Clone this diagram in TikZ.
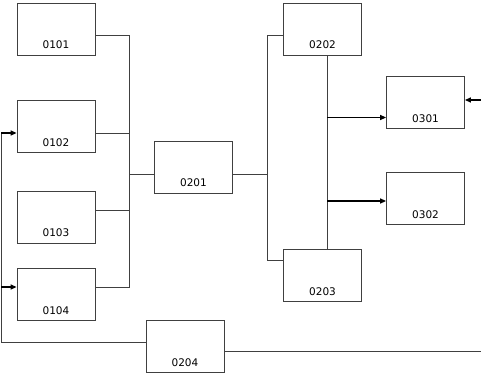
\documentclass[tikz,border=0pt]{standalone}
\usepackage{fontspec}
\setmainfont{DejaVu Sans}
\usetikzlibrary{arrows.meta}
\begin{document}
\begin{tikzpicture}[x=1pt, y=-1pt,
		box/.style={rectangle,draw=black!75,line width=0.8pt,minimum width=78pt,minimum height=52pt,
			text height=39pt,text depth=0pt,inner ysep=6.5pt,font=\fontsize{10.5}{12}\selectfont},
		wire/.style={draw=black!75,line width=0.8pt},
		feed/.style={draw=black,line width=1.3pt,-{Triangle[length=6pt,width=5pt]}}]
	\useasboundingbox (0,0) rectangle (481,377);

	% stage 01
	\node[box] (n0101) at (56,29.5) {0101};
	\node[box] (n0102) at (56,126.5) {0102};
	\node[box] (n0103) at (56,217) {0103};
	\node[box] (n0104) at (56,294.5) {0104};
	% stage 02
	\node[box] (n0201) at (193.5,167) {0201};
	\node[box] (n0202) at (322.5,29.5) {0202};
	\node[box] (n0203) at (322.5,275.5) {0203};
	\node[box] (n0204) at (185,346.5) {0204};
	% stage 03
	\node[box] (n0301) at (425.5,102.5) {0301};
	\node[box] (n0302) at (425.5,198.5) {0302};

	% junctions
	\coordinate (busA) at (129,174);
	\coordinate (busB) at (267,174);
	\coordinate (loopL) at (1,0);
	\coordinate (in0301) at (481,100);
	\coordinate (out0204) at (481,351.5);

	\coordinate (p0101) at ([yshift=-5.5pt]n0101.east);
	\coordinate (p0102) at ([yshift=-6.5pt]n0102.east);
	\coordinate (p0103) at ([yshift=7pt]n0103.east);
	\coordinate (p0104) at ([yshift=7.5pt]n0104.east);
	\coordinate (q0102) at ([yshift=-6.5pt]n0102.west);
	\coordinate (q0104) at ([yshift=7.5pt]n0104.west);
	\coordinate (q0202) at ([yshift=-5.5pt]n0202.west);
	\coordinate (q0203) at ([yshift=15.5pt]n0203.west);
	\coordinate (s0202) at ([xshift=4.5pt]n0202.south);
	\coordinate (s0203) at ([xshift=4.5pt]n0203.north);
	\coordinate (q0301) at ([yshift=-15pt]n0301.west);
	\coordinate (q0302) at ([yshift=-2.5pt]n0302.west);
	\coordinate (w0204) at ([yshift=4pt]n0204.west);
	\coordinate (e0204) at ([yshift=-5pt]n0204.east);

	\draw[wire] (p0101) -| (p0104 -| busA) -- (p0104);
	\draw[wire] (p0102) -- (p0102 -| busA);
	\draw[wire] (p0103) -- (p0103 -| busA);
	\draw[wire] (busA) -- (busA -| n0201.west);
	\draw[wire] (busA -| n0201.east) -- (busB);
	\draw[wire] (q0202) -| (q0203 -| busB) -- (q0203);
	\draw[wire] (s0202) -- (s0203);
	\draw[feed] (q0301 -| s0202) -- (q0301);
	\draw[feed] (q0302 -| s0202) -- (q0302);
	\draw[feed] (in0301) -- (in0301 -| n0301.east);
	\draw[wire] (w0204) -| (q0102 -| loopL);
	\draw[feed] (q0102 -| loopL) -- (q0102);
	\draw[feed] (q0104 -| loopL) -- (q0104);
	\draw[wire] (e0204) -- (out0204);
\end{tikzpicture}
\end{document}
